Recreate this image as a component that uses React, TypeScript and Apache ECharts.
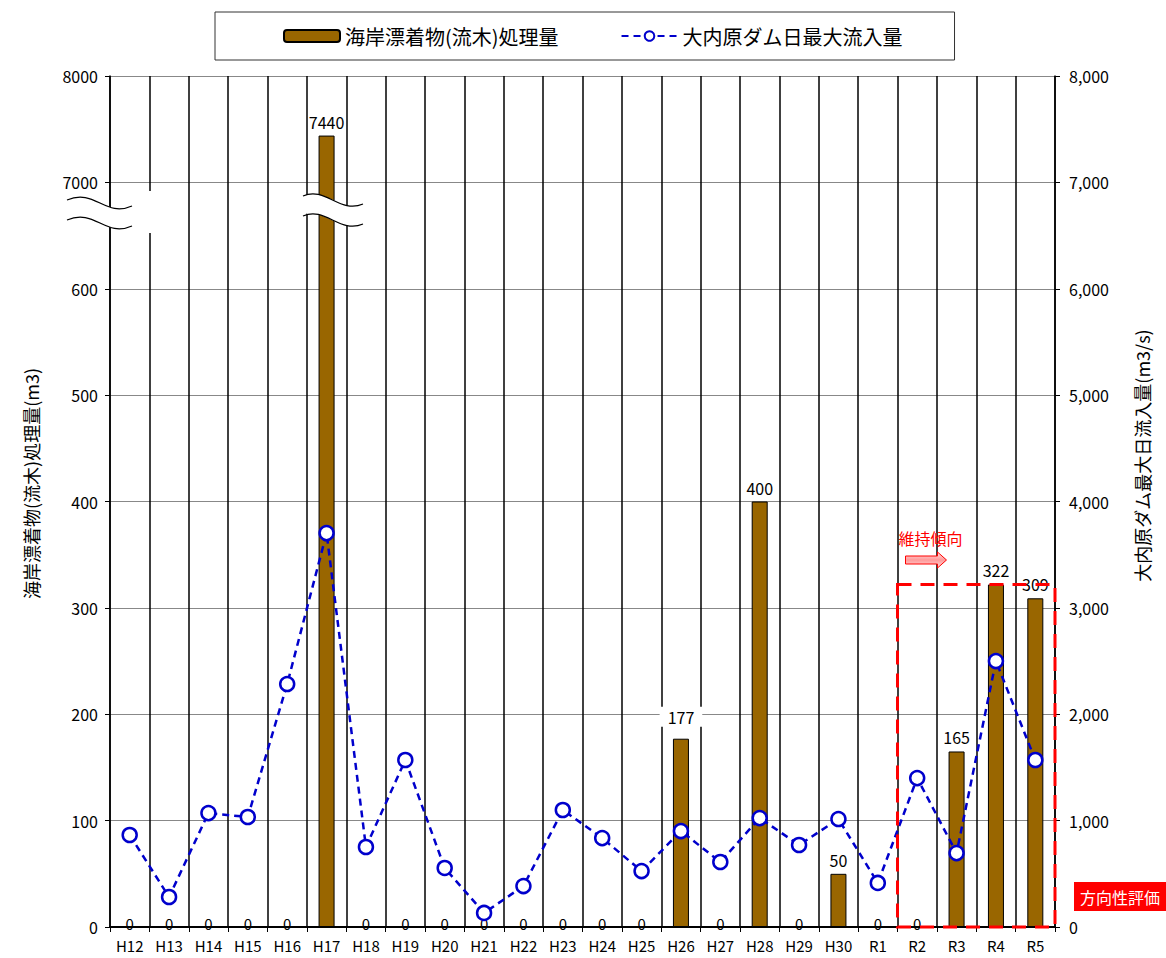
import React, { useEffect, useRef } from 'react';
import * as echarts from 'echarts';

const categories = ['H12', 'H13', 'H14', 'H15', 'H16', 'H17', 'H18', 'H19', 'H20', 'H21', 'H22', 'H23', 'H24', 'H25', 'H26', 'H27', 'H28', 'H29', 'H30', 'R1', 'R2', 'R3', 'R4', 'R5'];
const debrisVolume = [0, 0, 0, 0, 0, 7440, 0, 0, 0, 0, 0, 0, 0, 0, 177, 0, 400, 0, 50, 0, 0, 165, 322, 309];
const maxInflow = [865, 282, 1071, 1034, 2284, 3703, 752, 1570, 555, 132, 385, 1100, 836, 526, 902, 611, 1024, 771, 1015, 414, 1400, 695, 2500, 1570];
const leftTickLabels = ['0', '100', '200', '300', '400', '500', '600', '7000', '8000'];
const boxedLabelCategories = ['H26'];
const seriesNames = ['海岸漂着物(流木)処理量', '大内原ダム日最大流入量'];
const leftAxisName = '海岸漂着物(流木)処理量(m3)';
const rightAxisName = '大内原ダム最大日流入量(m3/s)';
const evalStartCategory = 'R2';
const trendText = '維持傾向';
const badgeText = '方向性評価';

const BREAK_VALUE = 7000;
const BREAK_AXIS = 700;
const BREAK_SCALE = 10;
const toAxis = (v: number) => (v >= BREAK_VALUE ? BREAK_AXIS + (v - BREAK_VALUE) / BREAK_SCALE : v);

const FONT = '"Noto Sans CJK JP", "Noto Sans", sans-serif';
const GRID = { left: 110, right: 111, top: 76, bottom: 31 };

export default function App() {
  const ref = useRef<HTMLDivElement>(null);
  useEffect(() => {
    if (!ref.current) return;
    const chart = echarts.init(ref.current, null, { renderer: 'svg' });
    const option: any = {
      animation: false,
      textStyle: { fontFamily: FONT, color: '#000' },
      grid: { ...GRID, containLabel: false },
      legend: {
        left: 215,
        top: 12,
        padding: [14, 52, 14, 68],
        itemGap: 62,
        itemWidth: 56,
        itemHeight: 12,
        borderColor: '#333',
        borderWidth: 1,
        textStyle: { fontSize: 20, color: '#000', fontFamily: FONT },
        data: seriesNames,
      },
      xAxis: {
        type: 'category',
        data: categories,
        boundaryGap: true,
        axisLine: { lineStyle: { color: '#000', width: 2 } },
        axisTick: { show: true, length: 5, lineStyle: { color: '#000' } },
        axisLabel: { color: '#000', fontSize: 15, margin: 11, interval: 0 },
        splitLine: { show: true, interval: 0, lineStyle: { color: '#000', width: 1.5 } },
      },
      yAxis: [
        {
          type: 'value',
          min: 0,
          max: 800,
          interval: 100,
          name: leftAxisName,
          nameLocation: 'middle',
          nameRotate: 90,
          nameGap: 70,
          nameTextStyle: { fontSize: 18, color: '#000', padding: [0, 0, 0, 36] },
          axisLine: { show: true, lineStyle: { color: '#000', width: 1.5 } },
          axisTick: { show: true, length: 5, lineStyle: { color: '#000' } },
          axisLabel: {
            color: '#000',
            fontSize: 16,
            margin: 12,
            formatter: (v: number) => leftTickLabels[Math.round(v / 100)] ?? '',
          },
          splitLine: { show: true, lineStyle: { color: '#888', width: 1 } },
        },
        {
          type: 'value',
          min: 0,
          max: 8000,
          interval: 1000,
          name: rightAxisName,
          nameLocation: 'middle',
          nameRotate: 90,
          nameGap: 78,
          nameTextStyle: { fontSize: 18, color: '#000', padding: [0, 0, 0, 92] },
          axisLine: { show: true, lineStyle: { color: '#000', width: 1.5 } },
          axisTick: { show: true, length: 5, lineStyle: { color: '#000' } },
          axisLabel: {
            color: '#000',
            fontSize: 16,
            margin: 14,
            formatter: (v: number) => v.toLocaleString('en-US'),
          },
          splitLine: { show: false },
        },
      ],
      series: [
        {
          name: seriesNames[0],
          type: 'bar',
          yAxisIndex: 0,
          barWidth: 16,
          itemStyle: { color: '#996600', borderColor: '#000', borderWidth: 1 },
          label: {
            show: true,
            position: 'top',
            distance: 6,
            fontSize: 16,
            color: '#000',
            formatter: (p: any) => String(debrisVolume[p.dataIndex]),
          },
          data: debrisVolume.map((v, i) => {
            const item: any = { value: toAxis(v) };
            if (v === 0) item.label = { position: 'inside', color: '#000', fontSize: 15, lineHeight: 12, offset: [0, -4] };
            else if (boxedLabelCategories.includes(categories[i]))
              item.label = { distance: 12, backgroundColor: '#fff', padding: [2, 8] };
            return item;
          }),
          z: 2,
        },
        {
          name: seriesNames[1],
          type: 'line',
          yAxisIndex: 1,
          symbol: 'circle',
          symbolSize: 14,
          lineStyle: { color: '#0000CC', width: 2.5, type: [7, 5] },
          itemStyle: { color: '#fff', borderColor: '#0000CC', borderWidth: 2.5 },
          data: maxInflow,
          z: 5,
        },
      ],
    };
    chart.setOption(option);

    const gridW = 1166 - GRID.left - GRID.right;
    const band = gridW / categories.length;
    const xStart = (chart.convertToPixel({ xAxisIndex: 0 }, evalStartCategory) as number) - band / 2;
    const xEnd = GRID.left + gridW;
    const startIdx = categories.indexOf(evalStartCategory);
    const evalMax = Math.max(...debrisVolume.slice(startIdx));
    const yTop = chart.convertToPixel({ yAxisIndex: 0 }, toAxis(evalMax)) as number;
    const yBottom = chart.convertToPixel({ yAxisIndex: 0 }, 0) as number;

    const wave = (x1: number, y1: number, x2: number, y2: number, c1x: number, c1y: number, c2x: number, c2y: number, dy: number, stroke: string, lw: number) => ({
      type: 'bezierCurve',
      shape: { x1, y1: y1 + dy, x2, y2: y2 + dy, cpx1: c1x, cpy1: c1y + dy, cpx2: c2x, cpy2: c2y + dy },
      style: { stroke, lineWidth: lw, fill: null },
      z: 100,
    });

    const graphic: any[] = [
      // left break
      { type: 'rect', shape: { x: 147, y: 191, width: 6, height: 42 }, style: { fill: '#fff' }, z: 99 },
      wave(67, 200, 132, 206, 95, 188, 105, 218, 10, '#fff', 19),
      wave(67, 200, 132, 206, 95, 188, 105, 218, 0, '#000', 1.2),
      wave(67, 200, 132, 206, 95, 188, 105, 218, 20, '#000', 1.2),
      // H17 break
      wave(303, 196, 363, 204, 325, 186, 340, 214, 10, '#fff', 19),
      wave(303, 196, 363, 204, 325, 186, 340, 214, 0, '#000', 1.2),
      wave(303, 196, 363, 204, 325, 186, 340, 214, 20, '#000', 1.2),
      // evaluation rectangle
      {
        type: 'rect',
        shape: { x: xStart, y: yTop, width: xEnd - xStart, height: yBottom - yTop },
        style: { fill: null, stroke: '#FF0000', lineWidth: 3, lineDash: [14, 9] },
        z: 120,
      },
      {
        type: 'text',
        x: xStart + 1,
        y: 538,
        style: { text: trendText, fill: '#FF0000', fontSize: 16, fontFamily: FONT, verticalAlign: 'middle', align: 'left' },
        z: 120,
      },
      {
        type: 'polygon',
        shape: {
          points: [
            [xStart + 8, 556],
            [xStart + 40, 556],
            [xStart + 40, 552],
            [xStart + 49, 560],
            [xStart + 40, 568],
            [xStart + 40, 564],
            [xStart + 8, 564],
          ],
        },
        style: {
          fill: new echarts.graphic.LinearGradient(0, 0, 0, 1, [
            { offset: 0, color: '#FFE0E0' },
            { offset: 0.5, color: '#FF9A9A' },
            { offset: 1, color: '#FFE0E0' },
          ]),
          stroke: '#FF0000',
          lineWidth: 1,
        },
        z: 120,
      },
      {
        type: 'rect',
        shape: { x: 1074, y: 882, width: 92, height: 29 },
        style: { fill: '#FF0000' },
        z: 120,
      },
      {
        type: 'text',
        x: 1120,
        y: 897,
        style: { text: badgeText, fill: '#fff', fontSize: 16, fontFamily: FONT, align: 'center', verticalAlign: 'middle' },
        z: 121,
      },
    ];
    chart.setOption({ graphic });

    return () => chart.dispose();
  }, []);
  return <div ref={ref} style={{ width: 1166, height: 958, position: 'absolute', left: 0, top: 0 }} />;
}
